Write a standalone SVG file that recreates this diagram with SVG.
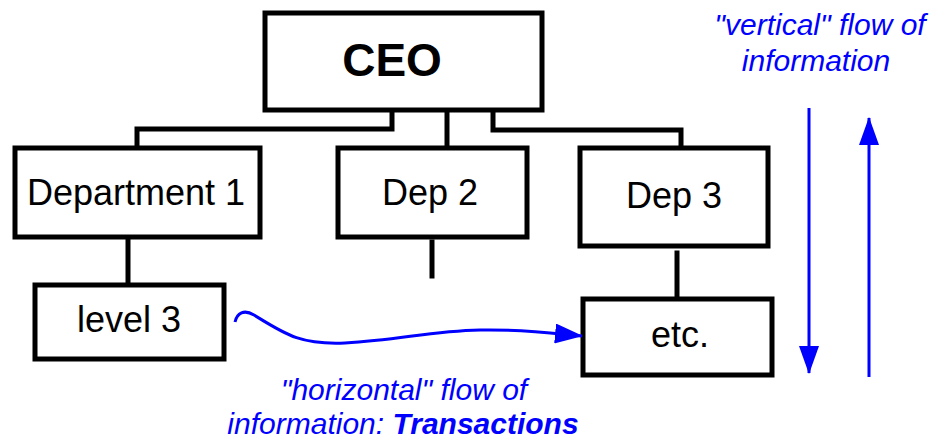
<svg xmlns="http://www.w3.org/2000/svg" width="936" height="446" viewBox="0 0 936 446">
  <style>
    .box { fill: #ffffff; stroke: #000000; stroke-width: 5; }
    .conn { fill: none; stroke: #000000; stroke-width: 5; stroke-linecap: square; }
    .lbl { font-family: "Liberation Sans", Arial, sans-serif; font-size: 36px; fill: #000000; text-anchor: middle; }
    .ceo { font-family: "Liberation Sans", Arial, sans-serif; font-size: 46px; font-weight: bold; fill: #000000; text-anchor: middle; }
    .note { font-family: "Liberation Sans", Arial, sans-serif; font-size: 30px; font-style: italic; fill: #0000ff; text-anchor: middle; }
    .flow { fill: none; stroke: #0000ff; stroke-width: 3; }
  </style>
  <defs>
    <marker id="arr" viewBox="0 0 28 20" refX="27" refY="10" markerWidth="28" markerHeight="20" markerUnits="userSpaceOnUse" orient="auto">
      <path d="M0,0 L28,10 L0,20 z" fill="#0000ff"/>
    </marker>
  </defs>
  <rect width="936" height="446" fill="#ffffff"/>

  <g id="connectors">
    <polyline class="conn" points="392,112 392,129 137,129 137,147"/>
    <line class="conn" x1="447" y1="112" x2="447" y2="147"/>
    <polyline class="conn" points="493,112 493,130 681,130 681,147"/>
    <line class="conn" x1="128" y1="238" x2="128" y2="284"/>
    <line class="conn" x1="432" y1="242" x2="432" y2="276"/>
    <line class="conn" x1="677" y1="253" x2="677" y2="298"/>
  </g>

  <g id="ceo">
    <rect class="box" x="265" y="13" width="277" height="97"/>
    <text class="ceo" x="392" y="76">CEO</text>
  </g>
  <g id="dept1">
    <rect class="box" x="15" y="148" width="245" height="89"/>
    <text class="lbl" x="136" y="205">Department 1</text>
  </g>
  <g id="dep2">
    <rect class="box" x="338" y="148" width="189" height="89"/>
    <text class="lbl" x="430" y="205">Dep 2</text>
  </g>
  <g id="dep3">
    <rect class="box" x="580" y="148" width="188" height="98"/>
    <text class="lbl" x="674" y="208">Dep 3</text>
  </g>
  <g id="level3">
    <rect class="box" x="35" y="285" width="189" height="74"/>
    <text class="lbl" x="129" y="332">level 3</text>
  </g>
  <g id="etc">
    <rect class="box" x="583" y="299" width="189" height="76"/>
    <text class="lbl" x="680" y="347">etc.</text>
  </g>

  <g id="flows">
    <path class="flow" d="M235,322 C237,313 244,309 254,315 C285,334 300,345 345,343 C400,340 430,331 480,330 C520,329 550,333 582,336" marker-end="url(#arr)"/>
    <line class="flow" x1="809" y1="108" x2="809" y2="373" marker-end="url(#arr)"/>
    <line class="flow" x1="869" y1="377" x2="869" y2="118" marker-end="url(#arr)"/>
  </g>

  <g id="notes">
    <text class="note" x="820" y="35">"vertical" flow of</text>
    <text class="note" x="816" y="71">information</text>
    <text class="note" x="404" y="400">"horizontal" flow of</text>
    <text class="note" x="403" y="434">information: <tspan font-weight="bold">Transactions</tspan></text>
  </g>
</svg>
